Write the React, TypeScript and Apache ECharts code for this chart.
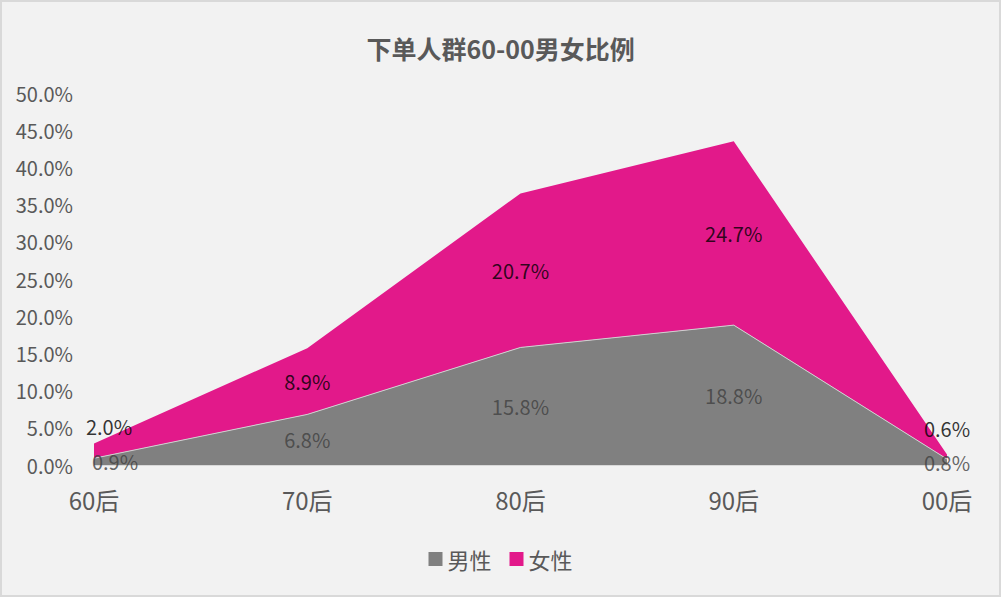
import React, { useEffect, useRef } from "react";
import * as echarts from "echarts";

const categories = ["60后", "70后", "80后", "90后", "00后"];
const maleValues = [0.9, 6.8, 15.8, 18.8, 0.8];
const femaleValues = [2.0, 8.9, 20.7, 24.7, 0.6];
const yTicks = [0, 5, 10, 15, 20, 25, 30, 35, 40, 45, 50];

const FONT = '"Microsoft YaHei", "Noto Sans CJK SC", sans-serif';
const TEXT = "#595959";
const MALE = "#808080";
const FEMALE = "#e2198a";

export default function App() {
  const ref = useRef<HTMLDivElement>(null);
  useEffect(() => {
    document.body.style.margin = "0";
    const chart = echarts.init(ref.current!, undefined, { renderer: "svg" });
    const n = categories.length;
    const maleLabelOffsets: Record<number, number[]> = { 0: [21, 0], [n - 1]: [0, 0] };
    const femaleLabelOffsets: Record<number, number[]> = { 0: [15, -24], [n - 1]: [0, -28] };
    const maleMid = maleValues.map((v, i) => ({
      value: [categories[i], v / 2],
      label: { offset: maleLabelOffsets[i] || [0, 0] },
    }));
    const femaleMid = femaleValues.map((v, i) => ({
      value: [categories[i], maleValues[i] + v / 2],
      label: { offset: femaleLabelOffsets[i] || [0, 0] },
    }));
    chart.setOption({
      animation: false,
      backgroundColor: "#f2f2f2",
      title: {
        text: "下单人群60-00男女比例",
        left: "center",
        top: 30,
        textStyle: { fontFamily: FONT, fontSize: 25, fontWeight: "bold", color: TEXT },
      },
      legend: {
        bottom: 22,
        left: "center",
        data: ["男性", "女性"],
        icon: "rect",
        itemWidth: 14,
        itemHeight: 14,
        itemGap: 18,
        textStyle: { fontFamily: FONT, fontSize: 22, color: TEXT, padding: [0, 0, 0, 0] },
      },
      grid: { left: 94, right: 54, top: 93, bottom: 132, containLabel: false },
      xAxis: {
        type: "category",
        data: categories,
        boundaryGap: false,
        axisLine: { show: true, lineStyle: { color: "#d9d9d9" } },
        axisTick: { show: false },
        axisLabel: { fontFamily: FONT, fontSize: 24, color: TEXT, margin: 22 },
        splitLine: { show: false },
      },
      yAxis: {
        type: "value",
        min: yTicks[0],
        max: yTicks[yTicks.length - 1],
        interval: 5,
        axisLine: { show: false },
        axisTick: { show: false },
        splitLine: { show: false },
        axisLabel: {
          fontFamily: FONT,
          fontSize: 20,
          color: TEXT,
          margin: 21,
          formatter: (v: number) => v.toFixed(1) + "%",
        },
      },
      series: [
        {
          name: "男性",
          type: "line",
          stack: "total",
          data: maleValues,
          symbol: "none",
          lineStyle: { color: "#d0d0d0", width: 1 },
          itemStyle: { color: MALE },
          areaStyle: { color: MALE, opacity: 1 },
          z: 3,
        },
        {
          name: "女性",
          type: "line",
          stack: "total",
          data: femaleValues,
          symbol: "none",
          lineStyle: { width: 0, color: FEMALE },
          itemStyle: { color: FEMALE },
          areaStyle: { color: FEMALE, opacity: 1 },
          z: 2,
        },
        {
          type: "scatter",
          data: maleMid,
          symbolSize: 0,
          silent: true,
          z: 10,
          label: {
            show: true,
            position: "inside",
            fontFamily: FONT,
            fontSize: 20,
            color: "#404040",
            formatter: (p: any) => maleValues[p.dataIndex].toFixed(1) + "%",
          },
        },
        {
          type: "scatter",
          data: femaleMid,
          symbolSize: 0,
          silent: true,
          z: 10,
          label: {
            show: true,
            position: "inside",
            fontFamily: FONT,
            fontSize: 20,
            color: "#000000",
            formatter: (p: any) => femaleValues[p.dataIndex].toFixed(1) + "%",
          },
        },
      ],
    });
    return () => chart.dispose();
  }, []);
  return (
    <div style={{ position: "fixed", left: 0, top: 0, width: 1001, height: 597 }}>
      <div ref={ref} style={{ width: 1001, height: 597 }} />
      <div
        style={{
          position: "absolute",
          left: 0,
          top: 0,
          width: 1001,
          height: 597,
          boxSizing: "border-box",
          border: "2px solid #d9d9d9",
          pointerEvents: "none",
        }}
      />
    </div>
  );
}
